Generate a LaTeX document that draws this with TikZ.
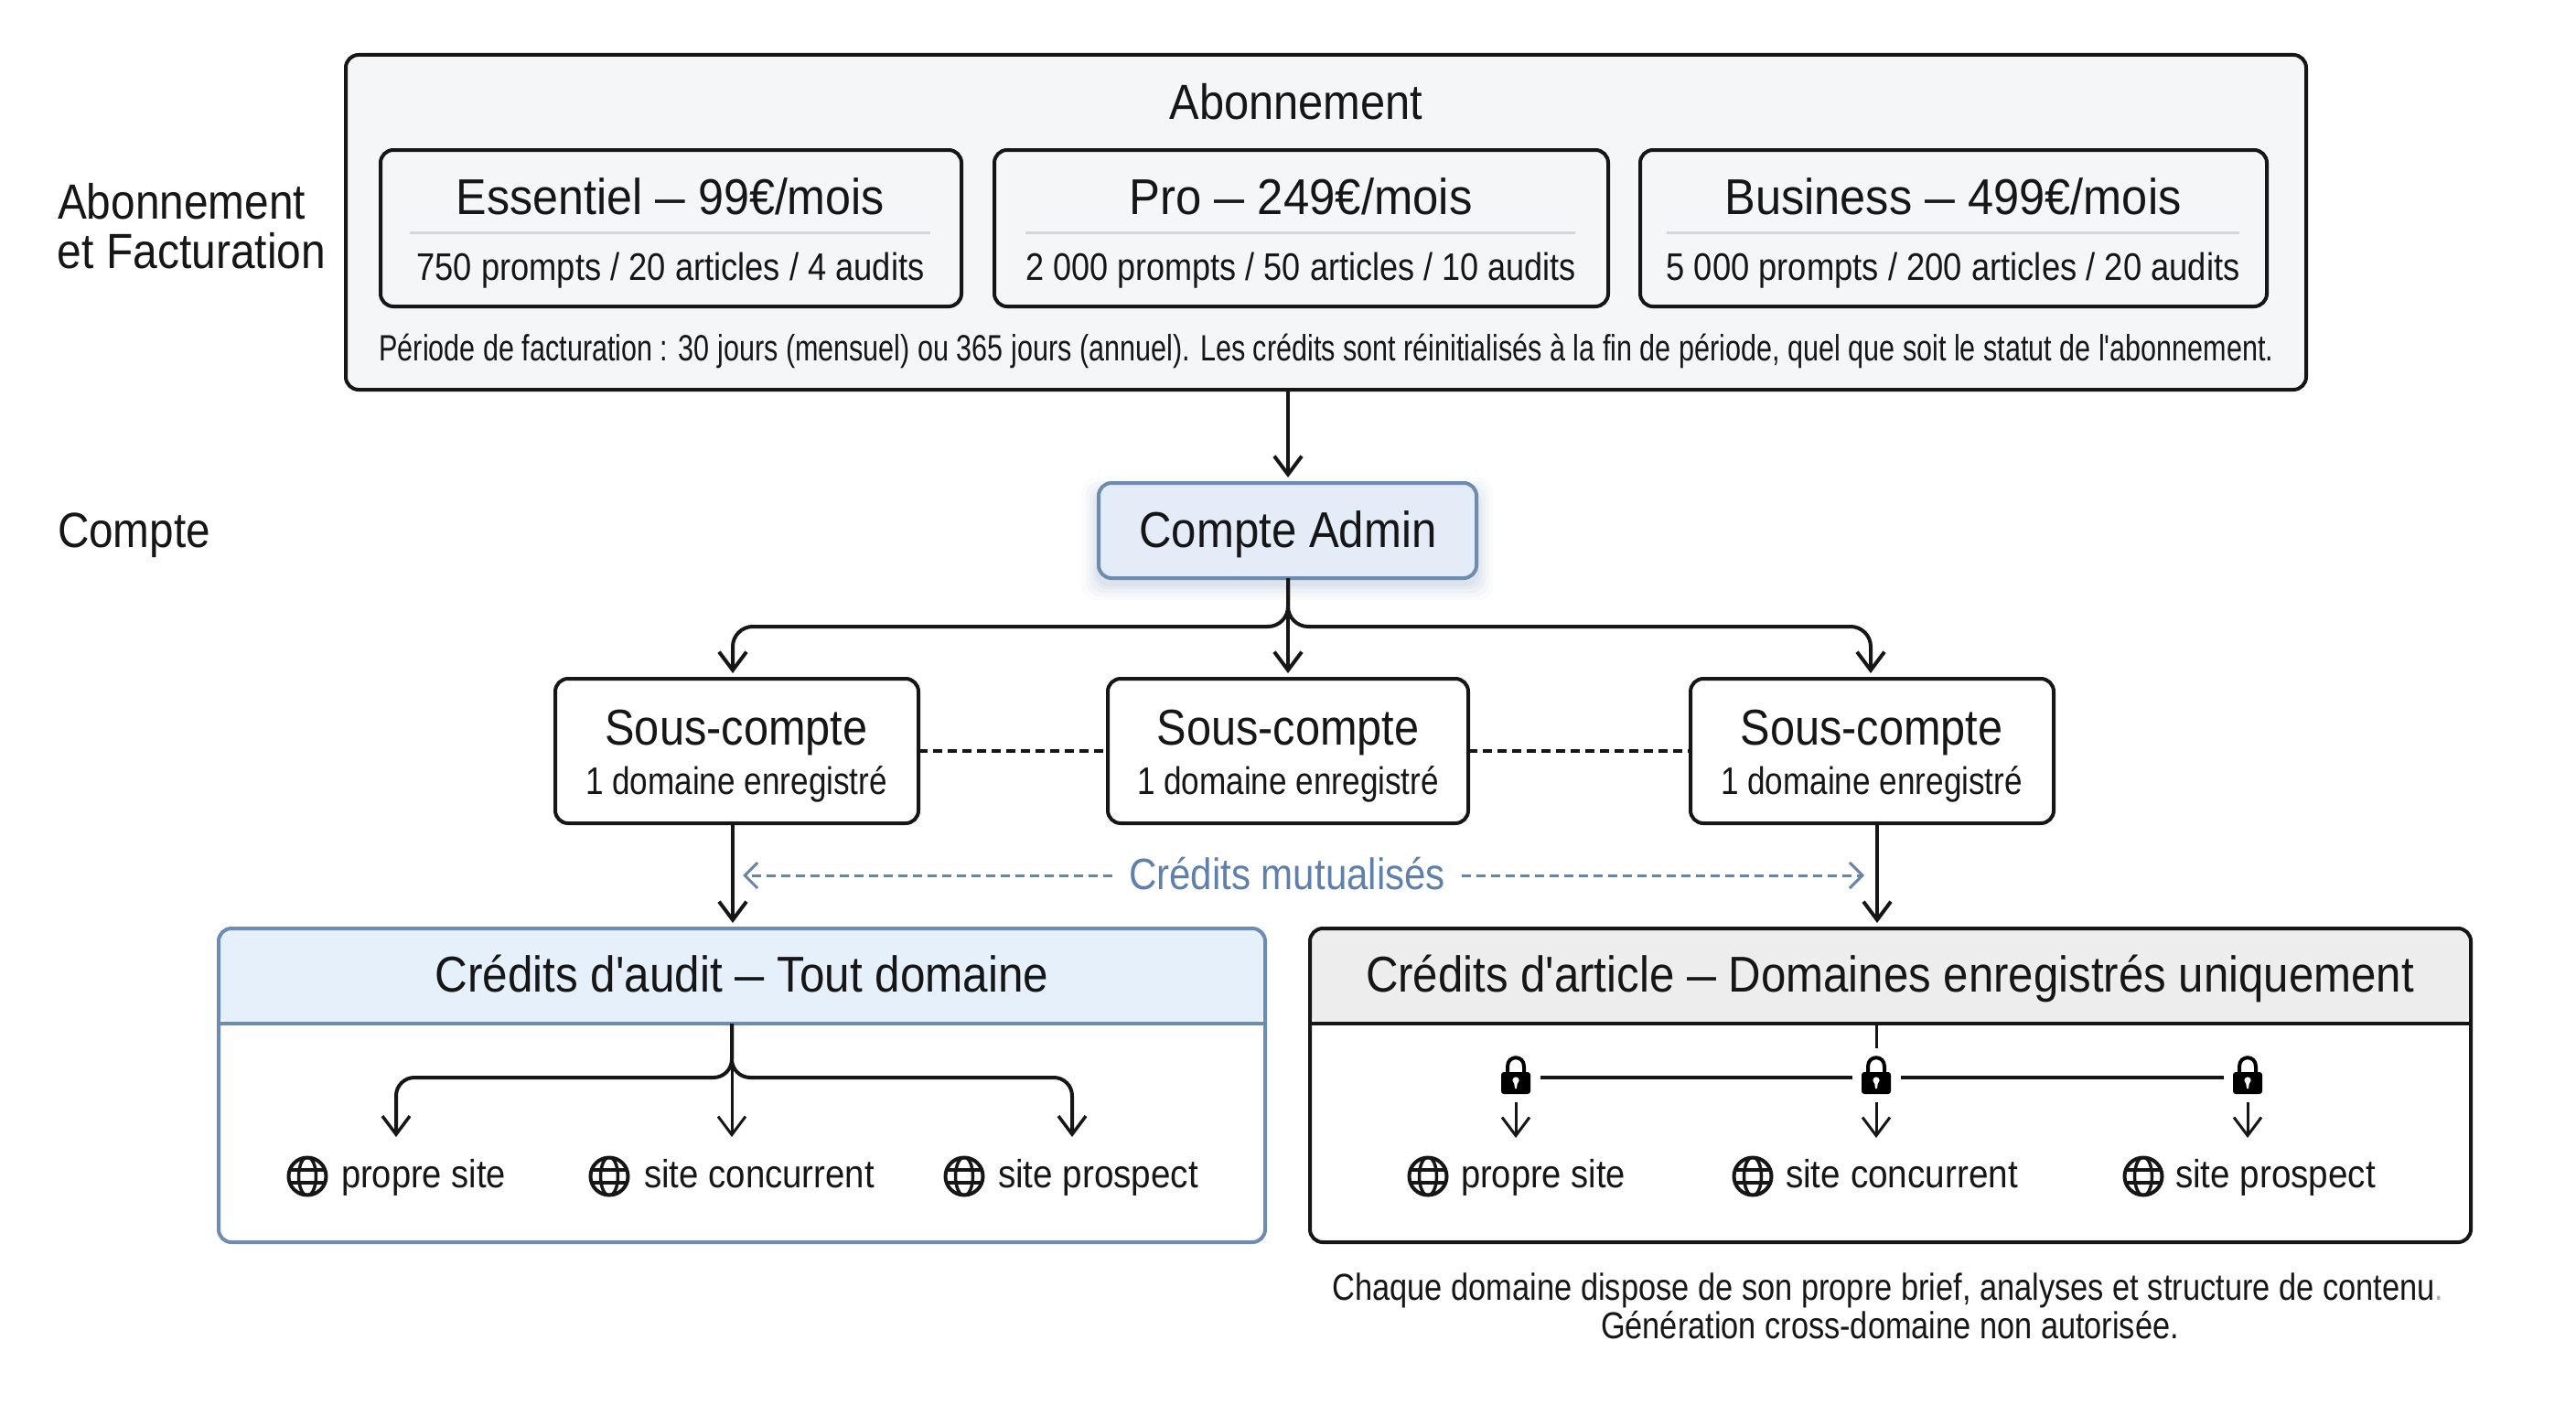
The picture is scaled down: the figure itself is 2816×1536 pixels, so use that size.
\documentclass[tikz,border=0pt]{standalone}
\usepackage{fontspec}
\usepackage{graphicx}
\setmainfont{Liberation Sans}
\newfontfamily\lib{Liberation Sans}
\usetikzlibrary{arrows.meta}
\definecolor{ink}{HTML}{161616}
\definecolor{panelbg}{HTML}{F4F6F8}
\definecolor{rulegray}{HTML}{D3D6D9}
\definecolor{adminbg}{HTML}{E3ECF7}
\definecolor{steel}{HTML}{6C8CB2}
\definecolor{steeldash}{HTML}{6B83A5}
\definecolor{steeltext}{HTML}{5F80AB}
\definecolor{auditbg}{HTML}{E6F0FA}
\definecolor{articlebg}{HTML}{EDEDED}
% width-fitted text: target width, font size, text
\newcommand\tw[3]{\resizebox{#1pt}{\height}{\lib\fontsize{#2pt}{#2pt}\selectfont #3}}
\newcommand\dsh{\scalebox{0.65}[1]{—}}
% box from corners
\newcommand\bx[6]{%
  \pgfmathsetmacro\cxx{(#3+#5)/2}\pgfmathsetmacro\cyy{(#4+#6)/2}%
  \pgfmathsetmacro\www{#5-#3}\pgfmathsetmacro\hhh{#6-#4}%
  \node[#1,minimum width=\www pt,minimum height=\hhh pt] (#2) at (\cxx,\cyy) {};}
\tikzset{
  x=1pt,y=-1pt,
  panel/.style={draw=ink,line width=4pt,rounded corners=14pt,inner sep=0pt,outer sep=0pt},
  txt/.style={anchor=base,inner sep=0pt,outer sep=0pt,text=ink,yshift=2pt},
  ltxt/.style={anchor=base west,inner sep=0pt,outer sep=0pt,text=ink,yshift=2pt},
  link/.style={draw=ink,line width=4pt},
  arr/.style={link,-{Straight Barb[length=20pt,width=30pt,line width=4pt]}},
  thinarr/.style={draw=ink,line width=3pt,-{Straight Barb[length=20pt,width=30pt,line width=3pt]}},
  peer/.style={draw=ink,line width=4pt,dash pattern=on 10pt off 6pt},
  shared/.style={draw=steeldash,line width=3pt,dash pattern=on 10pt off 6pt,-{Straight Barb[length=14pt,width=28pt,line width=3pt]}},
  globe/.style={circle,draw=ink,line width=4pt,minimum size=41pt,inner sep=0pt,outer sep=0pt,
    path picture={
      \draw[ink,line width=3.5pt] (path picture bounding box.center) ellipse (9.5pt and 21pt);
      \draw[ink,line width=3.5pt] ([xshift=-22pt,yshift=7pt]path picture bounding box.center) -- ++(44,0);
      \draw[ink,line width=3.5pt] ([xshift=-22pt,yshift=-7pt]path picture bounding box.center) -- ++(44,0);
      \draw[ink,line width=2.5pt] ([yshift=-22pt]path picture bounding box.center) -- ++(0,44);
    }},
  lockslot/.style={minimum width=53pt,minimum height=54pt,inner sep=0pt,outer sep=0pt},
  padlock/.pic={
    \draw[black,line width=4pt] (-9,-3) -- (-9,-12) .. controls (-9,-25) and (9,-25) .. (9,-12) -- (9,-3);
    \fill[black,rounded corners=3pt] (-16,-6) rectangle (16,18);
    \fill[white] (0,3) circle (3.6pt);
    \fill[white] (-2.2,4) -- (2.2,4) -- (0.9,12) -- (-0.9,12) -- cycle;
  },
}
\begin{document}
\begin{tikzpicture}
\useasboundingbox (0,0) rectangle (2816,1536);
\fill[white] (0,0) rectangle (2816,1536);

% left labels
\node[ltxt] (labA) at (63,241) {\tw{271}{54}{Abonnement}};
\node[ltxt] (labB) at (63,295) {\tw{293}{54}{et Facturation}};
\node[ltxt] (labC) at (63,600) {\tw{167}{54}{Compte}};

% subscription panel
\bx{panel,fill=panelbg}{sub}{378}{60}{2521}{426}
\node[txt] (subT) at (1417,133) {\tw{277}{54}{Abonnement}};

\bx{panel,fill=panelbg}{planA}{416}{164}{1051}{335}
\bx{panel,fill=panelbg}{planB}{1087}{164}{1758}{335}
\bx{panel,fill=panelbg}{planC}{1793}{164}{2478}{335}
\draw[rulegray,line width=3pt] (448,254) -- (1017,254);
\draw[rulegray,line width=3pt] (1121,254) -- (1722,254);
\draw[rulegray,line width=3pt] (1822,254) -- (2448,254);
\node[txt] (planAt) at (733,236) {\tw{468}{55}{Essentiel \dsh{} 99€/mois}};
\node[txt] (planAs) at (733,308) {\tw{555}{42}{750 prompts / 20 articles / 4 audits}};
\node[txt] (planBt) at (1422,236) {\tw{375}{55}{Pro \dsh{} 249€/mois}};
\node[txt] (planBs) at (1422,308) {\tw{601}{42}{2 000 prompts / 50 articles / 10 audits}};
\node[txt] (planCt) at (2135,236) {\tw{499}{55}{Business \dsh{} 499€/mois}};
\node[txt] (planCs) at (2135,308) {\tw{627}{42}{5 000 prompts / 200 articles / 20 audits}};
\node[txt] (subN) at (1450,396) {\tw{2071}{40}{Période de facturation : 30 jours (mensuel) ou 365 jours (annuel). Les crédits sont réinitialisés à la fin de période, quel que soit le statut de l'abonnement.}};

% admin with soft shadow
\foreach \g/\o in {18/0.03,14/0.04,10/0.05,6/0.06,3/0.07}{
  \fill[steel,opacity=\o,rounded corners=16pt] (1201-\g,540-\g) rectangle (1614+\g,638+\g);
}
\bx{panel,draw=steel,fill=adminbg}{admin}{1201}{528}{1614}{632}
\node[txt] (adminT) at (1408,600) {\tw{325}{55}{Compte Admin}};

% sub-accounts
\bx{panel,fill=white}{sa}{607}{742}{1004}{900}
\bx{panel,fill=white}{sb}{1211}{742}{1605}{900}
\bx{panel,fill=white}{sc}{1848}{742}{2245}{900}
\node[txt] (saT) at (805,816) {\tw{287}{55}{Sous-compte}};
\node[txt] (saS) at (805,870) {\tw{330}{42}{1 domaine enregistré}};
\node[txt] (sbT) at (1408,816) {\tw{287}{55}{Sous-compte}};
\node[txt] (sbS) at (1408,870) {\tw{330}{42}{1 domaine enregistré}};
\node[txt] (scT) at (2046,816) {\tw{287}{55}{Sous-compte}};
\node[txt] (scS) at (2046,870) {\tw{330}{42}{1 domaine enregistré}};

% credit panels
\bx{panel,fill=white,draw=steel,path picture={\fill[auditbg] (path picture bounding box.north west) rectangle ++(1144,104);}}{audit}{239}{1015}{1383}{1358}
\draw[steel,line width=4pt] (audit.west |- 0,1119) -- (audit.east |- 0,1119);
\node[txt] (auditT) at (811,1086) {\tw{671}{55}{Crédits d'audit \dsh{} Tout domaine}};

\bx{panel,fill=white,path picture={\fill[articlebg] (path picture bounding box.north west) rectangle ++(1269,104);}}{article}{1432}{1015}{2701}{1358}
\draw[ink,line width=4pt] (article.west |- 0,1119) -- (article.east |- 0,1119);
\node[txt] (articleT) at (2066,1086) {\tw{1146}{55}{Crédits d'article \dsh{} Domaines enregistrés uniquement}};

% shared credits
\node[txt,text=steeltext] (mut) at (1407,974) {\tw{346}{48}{Crédits mutualisés}};
\coordinate (mutL) at (1216,957);
\coordinate (mutR) at (1598,957);
\coordinate (mutLt) at (812,957);
\coordinate (mutRt) at (2038,957);
\draw[shared] (mutL) -- (mutLt);
\draw[shared] (mutR) -- (mutRt);

% connectors, top
\coordinate (subOut) at (1408,426);
\coordinate (adminIn) at (1408,522);
\draw[arr] (subOut) -- (adminIn);
\coordinate (aOut) at (1408,632);
\coordinate (jL) at (801,685);
\coordinate (jR) at (2045,685);
\coordinate (jM) at (1408,685);
\coordinate (tL) at (801,736);
\coordinate (tM) at (1408,736);
\coordinate (tR) at (2045,736);
\draw[link,rounded corners=22pt,-{Straight Barb[length=20pt,width=30pt,line width=4pt]}] (aOut) -- (jM) -- (jL) -- (tL);
\draw[link,rounded corners=22pt,-{Straight Barb[length=20pt,width=30pt,line width=4pt]}] (aOut) -- (jM) -- (jR) -- (tR);
\draw[arr] (aOut) -- (tM);
\draw[peer] (sa.east) -- (sb.west);
\draw[peer] (sb.east) -- (sc.west);

\coordinate (saOut) at (801,900);
\coordinate (saTip) at (801,1009);
\coordinate (scOut) at (2052,900);
\coordinate (scTip) at (2052,1009);
\draw[arr] (saOut) -- (saTip);
\draw[arr] (scOut) -- (scTip);

% audit tree
\coordinate (auOut) at (800,1119);
\coordinate (auJ) at (800,1178);
\coordinate (auJL) at (433,1178);
\coordinate (auJR) at (1172,1178);
\coordinate (auTL) at (433,1243);
\coordinate (auTM) at (800,1243);
\coordinate (auTR) at (1172,1243);
\draw[link,rounded corners=20pt,-{Straight Barb[length=20pt,width=30pt,line width=3.5pt]}] (auOut) -- (auJ) -- (auJL) -- (auTL);
\draw[link,rounded corners=20pt,-{Straight Barb[length=20pt,width=30pt,line width=3.5pt]}] (auOut) -- (auJ) -- (auJR) -- (auTR);
\draw[thinarr] (auOut) -- (auTM);

\node[globe] (g1) at (336,1286) {};
\node[globe] (g2) at (666,1286) {};
\node[globe] (g3) at (1054,1286) {};
\node[ltxt] (g1t) at (373,1300) {\tw{180}{43}{propre site}};
\node[ltxt] (g2t) at (704,1300) {\tw{252}{43}{site concurrent}};
\node[ltxt] (g3t) at (1091,1300) {\tw{219}{43}{site prospect}};

% article tree
\coordinate (arOut) at (2051,1119);
\coordinate (arStub) at (2051,1146);
\draw[ink,line width=3pt] (arOut) -- (arStub);
\node[lockslot] (la) at (1657,1178) {};
\node[lockslot] (lb) at (2051,1178) {};
\node[lockslot] (lc) at (2457,1178) {};
\pic at (la) {padlock};
\pic at (lb) {padlock};
\pic at (lc) {padlock};
\draw[link] (la) -- (lb);
\draw[link] (lb) -- (lc);
\coordinate (ta) at (1657,1244);
\coordinate (tb) at (2051,1244);
\coordinate (tc) at (2457,1244);
\draw[thinarr] (la.south) -- (ta);
\draw[thinarr] (lb.south) -- (tb);
\draw[thinarr] (lc.south) -- (tc);

\node[globe] (h1) at (1561,1286) {};
\node[globe] (h2) at (1916,1286) {};
\node[globe] (h3) at (2343,1286) {};
\node[ltxt] (h1t) at (1597,1300) {\tw{180}{43}{propre site}};
\node[ltxt] (h2t) at (1952,1300) {\tw{254}{43}{site concurrent}};
\node[ltxt] (h3t) at (2378,1300) {\tw{219}{43}{site prospect}};

% footnote
\node[txt] (fn1) at (2064,1423) {\tw{1215}{41}{Chaque domaine dispose de son propre brief, analyses et structure de contenu\textcolor{gray!60}{.}}};
\node[txt] (fn2) at (2066,1465) {\tw{632}{41}{Génération cross-domaine non autorisée.}};
\end{tikzpicture}
\end{document}
